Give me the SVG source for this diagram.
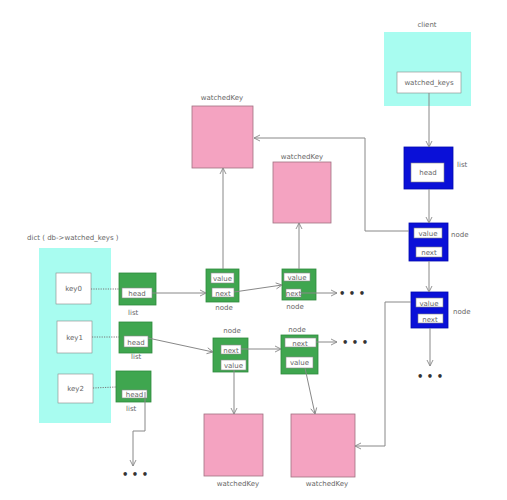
<svg xmlns="http://www.w3.org/2000/svg" width="507" height="500" viewBox="0 0 507 500">
<style>
text{font-family:"DejaVu Sans","Liberation Sans",sans-serif;font-size:7px;fill:#666}
.cy{fill:#a8fcf0}
.pk{fill:#f4a3c1;stroke:#a07080;stroke-width:0.8}
.gr{fill:#3fa64f;stroke:#2e8a3c;stroke-width:0.8}
.bl{fill:#0a10d8;stroke:#0008b0;stroke-width:0.8}
.wb{fill:#fff;stroke:#888;stroke-width:0.6}
.ln{fill:none;stroke:#888;stroke-width:1}
.dt{fill:none;stroke:#777;stroke-width:1;stroke-dasharray:1.2 1.2}
.dots{font-size:10px;fill:#333;font-weight:bold}
</style>
<defs>
<marker id="ar" markerWidth="8" markerHeight="8" refX="7" refY="4" orient="auto" markerUnits="userSpaceOnUse">
<path d="M1,1 L7,4 L1,7" fill="none" stroke="#888" stroke-width="0.9"/>
</marker>
</defs>
<rect width="507" height="500" fill="#fff"/>

<g id="client">
<text x="427" y="27" text-anchor="middle">client</text>
<rect class="cy" x="384" y="32" width="87" height="74"/>
<rect class="wb" x="397" y="72" width="64" height="21"/>
<text x="429" y="85" text-anchor="middle">watched_keys</text>
</g>

<g id="clientList">
<rect class="bl" x="404" y="147" width="49" height="42"/>
<rect class="wb" x="411" y="163" width="33" height="19"/>
<text x="428" y="175" text-anchor="middle">head</text>
<text x="457" y="167">list</text>
</g>

<g id="blueNode1">
<rect class="bl" x="409" y="223" width="39" height="38"/>
<rect class="wb" x="414" y="228" width="28" height="10"/>
<text x="428" y="236" text-anchor="middle">value</text>
<rect class="wb" x="416" y="247" width="26" height="10"/>
<text x="429" y="255" text-anchor="middle">next</text>
<text x="451" y="237">node</text>
</g>

<g id="blueNode2">
<rect class="bl" x="411" y="292" width="37" height="36"/>
<rect class="wb" x="416" y="298" width="27" height="9"/>
<text x="429" y="305.5" text-anchor="middle">value</text>
<rect class="wb" x="418" y="314" width="25" height="9"/>
<text x="430" y="321.5" text-anchor="middle">next</text>
<text x="453" y="314">node</text>
</g>

<g id="dict">
<text x="27" y="240">dict ( db-&gt;watched_keys )</text>
<rect class="cy" x="39" y="248" width="72" height="175"/>
</g>
<g id="key0"><rect class="wb" x="56" y="273" width="35" height="31"/><text x="73.5" y="291" text-anchor="middle">key0</text></g>
<g id="key1"><rect class="wb" x="57" y="321" width="35" height="32"/><text x="74.5" y="340" text-anchor="middle">key1</text></g>
<g id="key2"><rect class="wb" x="58" y="374" width="35" height="29"/><text x="75.5" y="391" text-anchor="middle">key2</text></g>

<g id="list0">
<rect class="gr" x="119" y="273" width="37" height="32"/>
<rect class="wb" x="122" y="288" width="30" height="10"/>
<text x="137" y="296" text-anchor="middle">head</text>
<text x="128" y="315">list</text>
</g>
<g id="list1">
<rect class="gr" x="119" y="322" width="33" height="31"/>
<rect class="wb" x="124" y="336" width="24" height="11"/>
<text x="136" y="344.5" text-anchor="middle">head</text>
<text x="131" y="359">list</text>
</g>
<g id="list2">
<rect class="gr" x="116" y="371" width="35" height="31"/>
<rect class="wb" x="122" y="390" width="25" height="8"/>
<text x="134.5" y="397" text-anchor="middle">head</text>
<text x="126" y="411">list</text>
</g>

<g id="nodeA">
<rect class="gr" x="206" y="269" width="33" height="33"/>
<rect class="wb" x="211" y="273" width="23" height="10"/>
<text x="222.5" y="281" text-anchor="middle">value</text>
<rect class="wb" x="212" y="288" width="22" height="9"/>
<text x="223" y="295.5" text-anchor="middle">next</text>
<text x="224" y="310" text-anchor="middle">node</text>
</g>
<g id="nodeB">
<rect class="gr" x="282" y="269" width="34" height="31"/>
<rect class="wb" x="284" y="273" width="26" height="8"/>
<text x="297" y="280" text-anchor="middle">value</text>
<rect class="wb" x="286" y="289" width="15" height="8"/>
<text x="293.5" y="296" text-anchor="middle">next</text>
<text x="295" y="309" text-anchor="middle">node</text>
</g>
<g id="nodeC">
<text x="232" y="333" text-anchor="middle">node</text>
<rect class="gr" x="213" y="338" width="35" height="34"/>
<rect class="wb" x="221" y="345" width="20" height="9"/>
<text x="231" y="352.5" text-anchor="middle">next</text>
<rect class="wb" x="221" y="360" width="25" height="10"/>
<text x="233.5" y="368" text-anchor="middle">value</text>
</g>
<g id="nodeD">
<text x="297" y="332" text-anchor="middle">node</text>
<rect class="gr" x="281" y="335" width="37" height="39"/>
<rect class="wb" x="285" y="338" width="31" height="9"/>
<text x="300" y="345.5" text-anchor="middle">next</text>
<rect class="wb" x="286" y="357" width="27" height="11"/>
<text x="299.5" y="365" text-anchor="middle">value</text>
</g>

<g id="wk1"><text x="222" y="100" text-anchor="middle">watchedKey</text><rect class="pk" x="192" y="106" width="61" height="62"/></g>
<g id="wk2"><text x="302" y="159" text-anchor="middle">watchedKey</text><rect class="pk" x="273" y="162" width="58" height="61"/></g>
<g id="wk3"><rect class="pk" x="204" y="414" width="59" height="62"/><text x="238" y="486" text-anchor="middle">watchedKey</text></g>
<g id="wk4"><rect class="pk" x="291" y="414" width="64" height="63"/><text x="327" y="486" text-anchor="middle">watchedKey</text></g>

<g id="connectors">
<line class="ln" x1="429" y1="93" x2="429" y2="147" marker-end="url(#ar)"/>
<line class="ln" x1="429" y1="189" x2="429" y2="223" marker-end="url(#ar)"/>
<line class="ln" x1="429" y1="261" x2="429" y2="292" marker-end="url(#ar)"/>
<line class="ln" x1="430" y1="328" x2="430" y2="366" marker-end="url(#ar)"/>
<polyline class="ln" points="409,231 365,231 365,138 254,138" marker-end="url(#ar)"/>
<polyline class="ln" points="411,302 385,302 385,446 355,446" marker-end="url(#ar)"/>
<line class="dt" x1="91" y1="289" x2="119" y2="289"/>
<line class="dt" x1="92" y1="337" x2="119" y2="337"/>
<line class="dt" x1="93" y1="388" x2="116" y2="387"/>
<line class="ln" x1="152" y1="293" x2="206" y2="293" marker-end="url(#ar)"/>
<line class="ln" x1="148" y1="338" x2="213" y2="352" marker-end="url(#ar)"/>
<polyline class="ln" points="145,392 145,431 133,431 133,466" marker-end="url(#ar)"/>
<line class="ln" x1="234" y1="292" x2="282" y2="285" marker-end="url(#ar)"/>
<line class="ln" x1="301" y1="293" x2="337" y2="293" marker-end="url(#ar)"/>
<line class="ln" x1="223" y1="269" x2="223" y2="168" marker-end="url(#ar)"/>
<line class="ln" x1="299" y1="269" x2="299" y2="223" marker-end="url(#ar)"/>
<line class="ln" x1="241" y1="349" x2="281" y2="349" marker-end="url(#ar)"/>
<line class="ln" x1="316" y1="342" x2="337" y2="342" marker-end="url(#ar)"/>
<line class="ln" x1="234" y1="370" x2="234" y2="414" marker-end="url(#ar)"/>
<line class="ln" x1="305" y1="368" x2="315" y2="414" marker-end="url(#ar)"/>
</g>
<g id="ellipses">
<text class="dots" x="352" y="297" text-anchor="middle">• • •</text>
<text class="dots" x="355" y="346" text-anchor="middle">• • •</text>
<text class="dots" x="430" y="380" text-anchor="middle">• • •</text>
<text class="dots" x="135" y="478" text-anchor="middle">• • •</text>
</g>
</svg>
